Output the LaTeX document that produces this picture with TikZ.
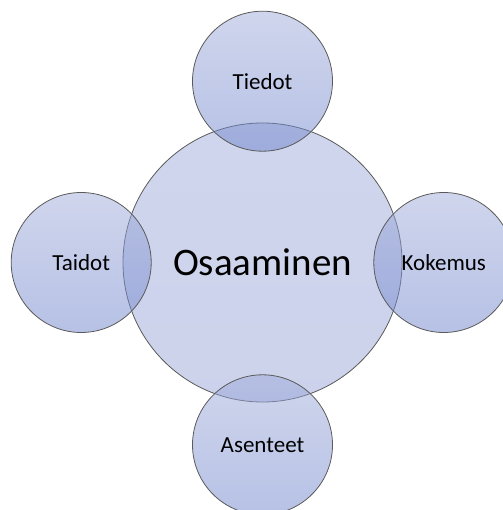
\documentclass[tikz,border=0pt]{standalone}
\usepackage{fontspec}
\setmainfont{Carlito}
\usetikzlibrary{positioning}
\definecolor{circletop}{RGB}{160,172,218}
\definecolor{circlebottom}{RGB}{110,132,204}
\definecolor{circleline}{RGB}{90,90,90}

\begin{document}
\begin{tikzpicture}[
        bigcircle/.style={shape=circle, minimum size=279pt, inner sep=0pt, draw=circleline, line width=0.8pt,
            top color=circletop, bottom color=circletop!85!circlebottom, fill opacity=0.5, text opacity=1, font=\fontsize{39pt}{39pt}\selectfont},
        smallcircle/.style={shape=circle, minimum size=140pt, inner sep=0pt, draw=circleline, line width=0.8pt,
            top color=circletop, bottom color=circlebottom, fill opacity=0.5, text opacity=1, font=\fontsize{23pt}{23pt}\selectfont}]
        \useasboundingbox (0pt, 0pt) rectangle (502pt, -510pt);
        % Centre
        \node[bigcircle] (osaaminen) at (262.5pt, -262.5pt) {Osaaminen};
        % Satellites
        \node[smallcircle, above=-29pt of osaaminen] (tiedot) {Tiedot};
        \node[smallcircle, left=-29pt of osaaminen] (taidot) {Taidot};
        \node[smallcircle, right=-29pt of osaaminen] (kokemus) {Kokemus};
        \node[smallcircle, below=-28pt of osaaminen] (asenteet) {Asenteet};
\end{tikzpicture}
\end{document}
